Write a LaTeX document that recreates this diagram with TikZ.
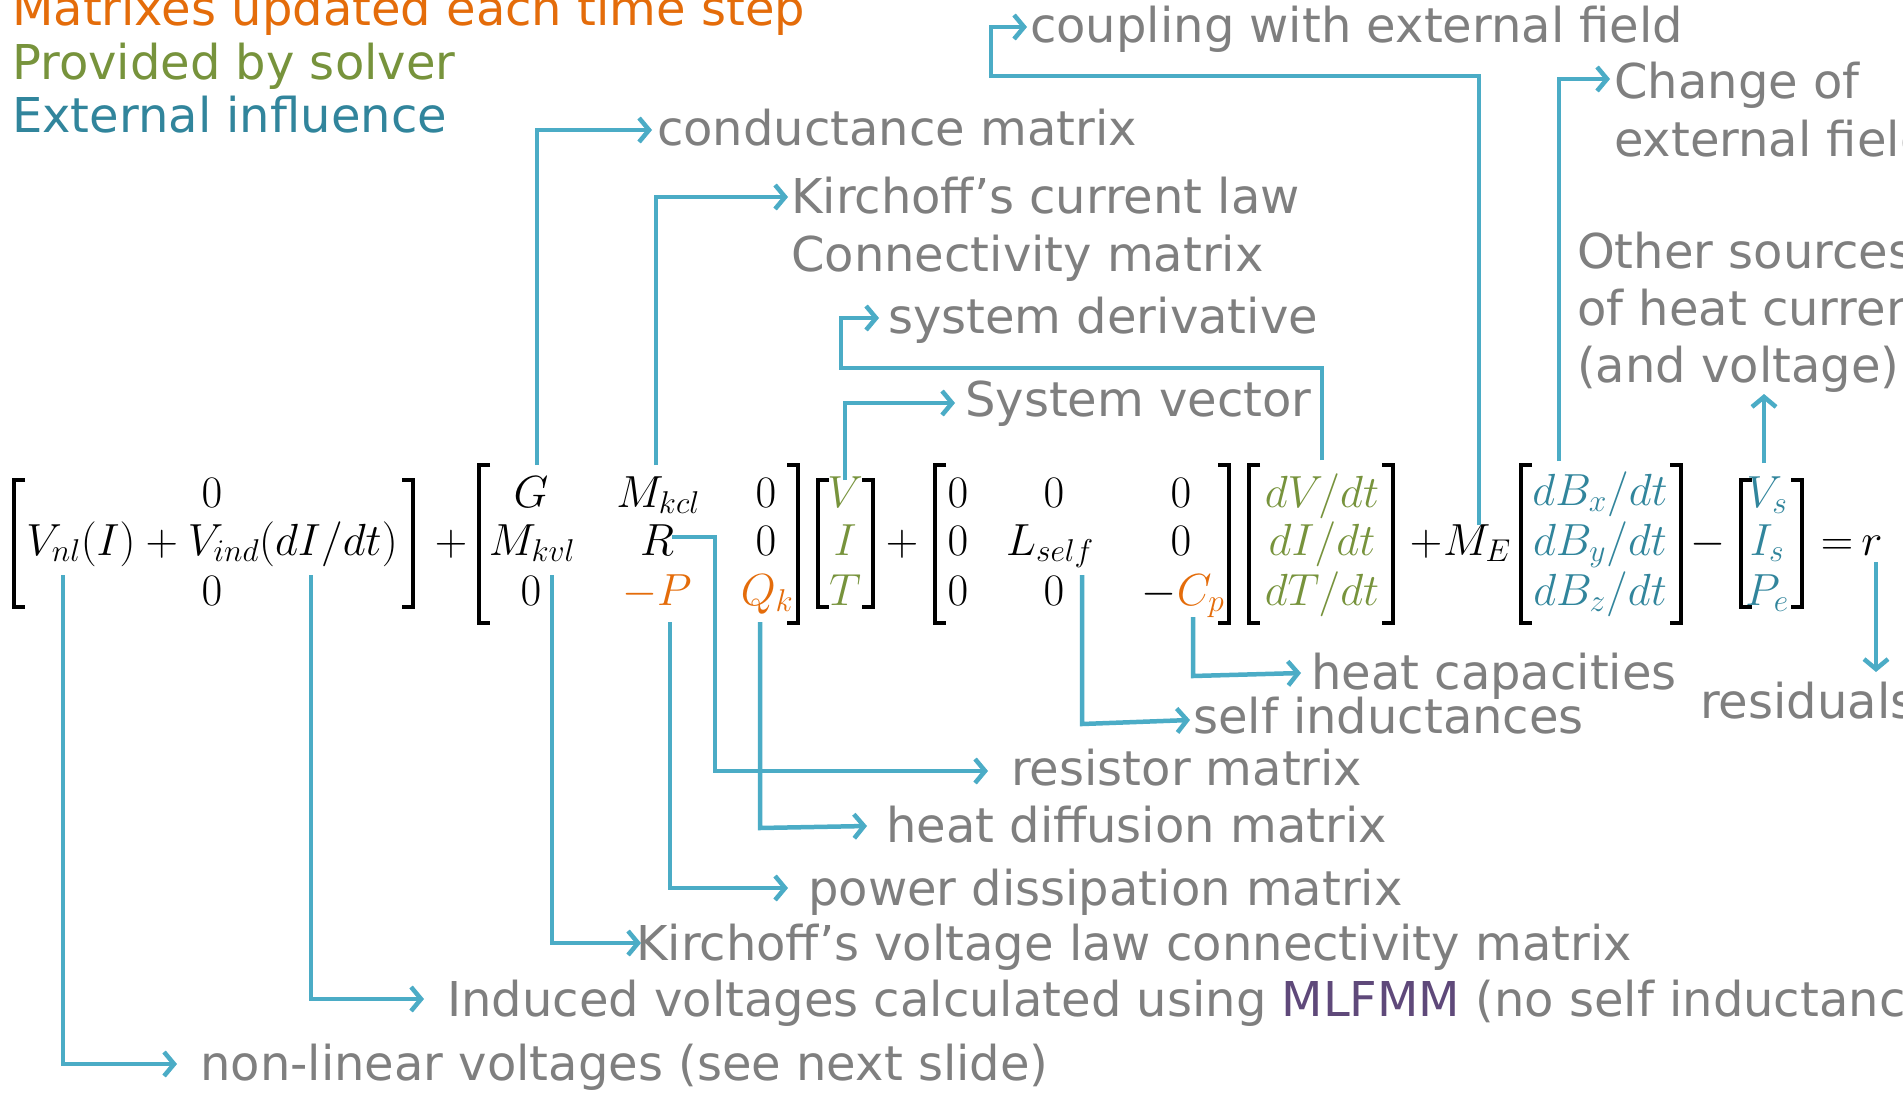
\RequirePackage{fix-cm}
\documentclass[tikz,border=0pt]{standalone}
\usepackage[no-math]{fontspec}
\setmainfont{DejaVu Sans}
\usetikzlibrary{arrows.meta}
\definecolor{conncol}{HTML}{4BACC6}
\definecolor{graytxt}{HTML}{7F7F7F}
\definecolor{orangec}{HTML}{E46C0A}
\definecolor{greenc}{HTML}{77933C}
\definecolor{tealc}{HTML}{31859C}
\definecolor{purplec}{HTML}{5F497A}
\newcommand\mylb[3]{\draw[brk] ({#1+11},#2) -- (#1,#2) -- (#1,#3) -- ({#1+11},#3);}
\newcommand\myrb[3]{\draw[brk] ({#1-11},#2) -- (#1,#2) -- (#1,#3) -- ({#1-11},#3);}
\begin{document}
\begin{tikzpicture}[x=1pt,y=-1pt,
  conn/.style={draw=conncol, line width=4.5pt, -{Straight Barb[length=10pt,width=24pt]}},
  brk/.style={draw=black, line width=3.2pt},
  lbl/.style={text=graytxt, font=\fontsize{48}{56}\selectfont, inner sep=0pt, anchor=base west},
  leg/.style={font=\fontsize{48}{56}\selectfont, inner sep=0pt, anchor=base west},
  mth/.style={font=\fontsize{45}{50}\selectfont, inner sep=0pt, anchor=base}]
\fill[white] (0,0) rectangle (1903,1095);
\useasboundingbox (0,0) rectangle (1903,1095);

% legend
\node[leg, text=orangec] (leg1) at (12,25) {Matrixes updated each time step};
\node[leg, text=greenc] (leg2) at (12,79) {Provided by solver};
\node[leg, text=tealc] (leg3) at (12,132) {External influence};

% equation: brackets
\mylb{14}{480}{607} \myrb{413}{480}{607}
\mylb{479}{465}{623} \myrb{798}{465}{623}
\mylb{818}{480}{607} \myrb{873}{480}{607}
\mylb{935}{465}{623} \myrb{1229}{465}{623}
\mylb{1249}{465}{623} \myrb{1393}{465}{623}
\mylb{1521}{465}{623} \myrb{1681}{465}{623}
\mylb{1741}{480}{607} \myrb{1802}{480}{607}

% first vector
\node[mth] (a1) at (212,507) {$0$};
\node[mth] (a2) at (212,555) {$V_{nl}(I)+V_{ind}(dI/dt)$};
\node[mth] (a3) at (212,605) {$0$};
\node[mth] (p1) at (451,555) {$+$};
% second matrix
\node[mth] (b11) at (531,507) {$G$};
\node[mth] (b12) at (658,507) {$M_{kcl}$};
\node[mth] (b13) at (766,507) {$0$};
\node[mth] (b21) at (532,555) {$M_{kvl}$};
\node[mth] (b22) at (657,555) {$R$};
\node[mth] (b23) at (766,555) {$0$};
\node[mth] (b31) at (531,605) {$0$};
\node[mth] (b32) at (657,605) {$\color{orangec}-P$};
\node[mth] (b33) at (767,605) {$\color{orangec}Q_k$};
% system vector
\node[mth] (v1) at (845,507) {$\color{greenc}V$};
\node[mth] (v2) at (845,555) {$\color{greenc}I$};
\node[mth] (v3) at (845,605) {$\color{greenc}T$};
\node[mth] (p2) at (902,555) {$+$};
% third matrix
\node[mth] (c11) at (958,507) {$0$};
\node[mth] (c12) at (1054,507) {$0$};
\node[mth] (c13) at (1181,507) {$0$};
\node[mth] (c21) at (958,555) {$0$};
\node[mth] (c22) at (1050,555) {$L_{self}$};
\node[mth] (c23) at (1181,555) {$0$};
\node[mth] (c31) at (958,605) {$0$};
\node[mth] (c32) at (1054,605) {$0$};
\node[mth] (c33) at (1183,605) {$-{\color{orangec}C_p}$};
% derivative vector
\node[mth] (d1) at (1322,507) {$\color{greenc}dV/dt$};
\node[mth] (d2) at (1322,555) {$\color{greenc}dI/dt$};
\node[mth] (d3) at (1322,605) {$\color{greenc}dT/dt$};
\node[mth] (p3) at (1426,555) {$+$};
\node[mth] (me) at (1477,555) {$M_E$};
% field vector
\node[mth] (e1) at (1600,505) {$\color{tealc}dB_x/dt$};
\node[mth] (e2) at (1600,555) {$\color{tealc}dB_y/dt$};
\node[mth] (e3) at (1600,605) {$\color{tealc}dB_z/dt$};
\node[mth] (m1) at (1708,555) {$-$};
% sources
\node[mth] (s1) at (1767,507) {$\color{tealc}V_s$};
\node[mth] (s2) at (1767,555) {$\color{tealc}I_s$};
\node[mth] (s3) at (1767,605) {$\color{tealc}P_e$};
\node[mth] (eq) at (1837,555) {$=$};
\node[mth] (rr) at (1872,555) {$r$};

% labels
\node[lbl] (tcond) at (657,145) {conductance matrix};
\node[lbl] (tkcl1) at (791,213) {Kirchoff’s current law};
\node[lbl] (tkcl2) at (791,271) {Connectivity matrix};
\node[lbl] (tsysd) at (888,333) {system derivative};
\node[lbl] (tsysv) at (965,416) {System vector};
\node[lbl] (tcoup) at (1030,42) {coupling with external field};
\node[lbl] (tchg1) at (1614,98) {Change of};
\node[lbl] (tchg2) at (1614,156) {external field};
\node[lbl] (toth1) at (1577,268) {Other sources};
\node[lbl] (toth2) at (1577,325) {of heat current};
\node[lbl] (toth3) at (1577,382) {(and voltage)};
\node[lbl] (theat) at (1311,689) {heat capacities};
\node[lbl] (tself) at (1193,733) {self inductances};
\node[lbl] (tres) at (1700,718) {residuals};
\node[lbl] (tresm) at (1011,785) {resistor matrix};
\node[lbl] (tdiff) at (886,842) {heat diffusion matrix};
\node[lbl] (tpow) at (808,905) {power dissipation matrix};
\node[lbl] (tkvl) at (636,960) {Kirchoff’s voltage law connectivity matrix};
\node[lbl] (tind) at (447,1016) {Induced voltages calculated using {\color{purplec}MLFMM} (no self inductance)};
\node[lbl] (tnl) at (200,1080) {non-linear voltages (see next slide)};

% connector coordinates
\coordinate (sG) at (537,465);   \coordinate (eG) at (652,130);
\coordinate (sK) at (656,465);   \coordinate (eK) at (788,197);
\coordinate (sD) at (1322,460);  \coordinate (jD) at (841,368);  \coordinate (eD) at (879,318);
\coordinate (sV) at (845,480);   \coordinate (eV) at (955,403);
\coordinate (sM) at (1479,525);  \coordinate (jM) at (991,76);   \coordinate (eM) at (1027,27);
\coordinate (sB) at (1559,461);  \coordinate (eB) at (1610,79);
\coordinate (sS) at (1764,463);  \coordinate (eS) at (1764,394);
\coordinate (sRr) at (1876,562); \coordinate (eRr) at (1876,672);
\coordinate (sC) at (1193,617);  \coordinate (jC) at (1193,676); \coordinate (eC) at (1301,673);
\coordinate (sL) at (1082,575);  \coordinate (jL) at (1082,724); \coordinate (eL) at (1190,720);
\coordinate (sR) at (672,537);   \coordinate (jR) at (715,771);  \coordinate (eR) at (988,771);
\coordinate (sQ) at (760,622);   \coordinate (jQ) at (760,828);  \coordinate (eQ) at (867,826);
\coordinate (sP) at (670,622);   \coordinate (eP) at (788,888);
\coordinate (sKv) at (552,575);  \coordinate (eKv) at (641,943);
\coordinate (sI) at (311,575);   \coordinate (eI) at (424,999);
\coordinate (sN) at (63,575);    \coordinate (eN) at (177,1064);

% connectors
\draw[conn] (sG) |- (eG);
\draw[conn] (sK) |- (eK);
\draw[conn] (sD) |- (jD) |- (eD);
\draw[conn] (sV) |- (eV);
\draw[conn] (sM) |- (jM) |- (eM);
\draw[conn] (sB) |- (eB);
\draw[conn] (sS) -- (eS);
\draw[conn] (sRr) -- (eRr);
\draw[conn] (sC) -- (jC) -- (eC);
\draw[conn] (sL) -- (jL) -- (eL);
\draw[conn] (sR) -| (jR) -- (eR);
\draw[conn] (sQ) -- (jQ) -- (eQ);
\draw[conn] (sP) |- (eP);
\draw[conn] (sKv) |- (eKv);
\draw[conn] (sI) |- (eI);
\draw[conn] (sN) |- (eN);
\end{tikzpicture}
\end{document}
